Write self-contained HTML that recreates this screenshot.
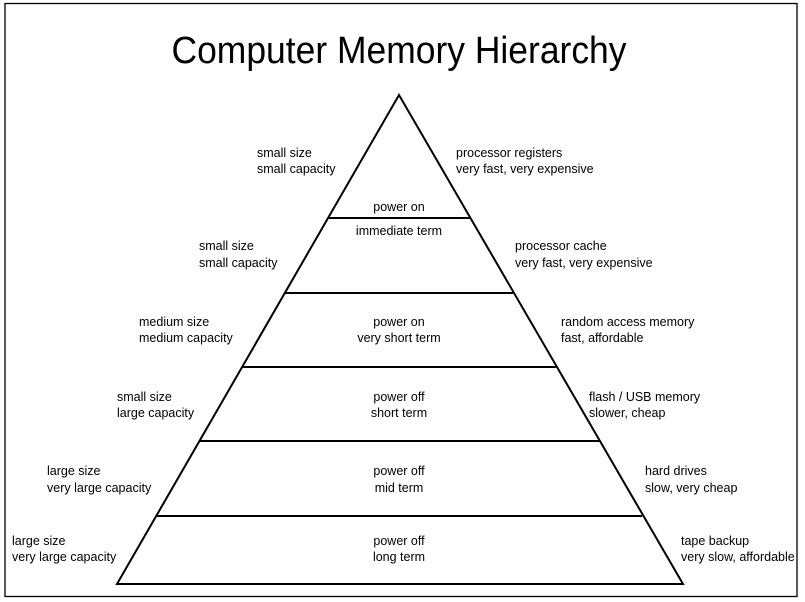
<!DOCTYPE html>
<html><head><meta charset="utf-8"><style>
html,body{margin:0;padding:0;background:#fff;}
svg{display:block;}
text{font-family:"Liberation Sans",sans-serif;fill:#000;}
.s{font-size:12.5px;}
</style></head><body>
<svg width="805" height="602" viewBox="0 0 805 602" xmlns="http://www.w3.org/2000/svg">
<rect x="5" y="3.5" width="792" height="593" fill="none" stroke="#000" stroke-width="1.3"/>
<text x="399" y="63" font-size="38" text-anchor="middle" textLength="455" lengthAdjust="spacingAndGlyphs">Computer Memory Hierarchy</text>
<polygon points="399,95 683,584 117,584" fill="none" stroke="#000" stroke-width="2"/>
<g stroke="#000" stroke-width="2">
<line x1="328" y1="218" x2="470" y2="218"/>
<line x1="285" y1="293" x2="513" y2="293"/>
<line x1="242" y1="367" x2="556" y2="367"/>
<line x1="199" y1="441" x2="599" y2="441"/>
<line x1="156" y1="516" x2="642" y2="516"/>
</g>
<g class="s" dominant-baseline="central">
<text x="257" y="153">small size</text><text x="257" y="169">small capacity</text>
<text x="456" y="153">processor registers</text><text x="456" y="169">very fast, very expensive</text>
<text x="399" y="207" text-anchor="middle">power on</text>
<text x="399" y="231" text-anchor="middle">immediate term</text>

<text x="199" y="246">small size</text><text x="199" y="263">small capacity</text>
<text x="515" y="246">processor cache</text><text x="515" y="263">very fast, very expensive</text>

<text x="139" y="322">medium size</text><text x="139" y="338">medium capacity</text>
<text x="399" y="322" text-anchor="middle">power on</text><text x="399" y="338" text-anchor="middle">very short term</text>
<text x="561" y="322">random access memory</text><text x="561" y="338">fast, affordable</text>

<text x="117" y="397">small size</text><text x="117" y="413">large capacity</text>
<text x="399" y="397" text-anchor="middle">power off</text><text x="399" y="413" text-anchor="middle">short term</text>
<text x="589" y="397">flash / USB memory</text><text x="589" y="413">slower, cheap</text>

<text x="47" y="471">large size</text><text x="47" y="488">very large capacity</text>
<text x="399" y="471" text-anchor="middle">power off</text><text x="399" y="488" text-anchor="middle">mid term</text>
<text x="645" y="471">hard drives</text><text x="645" y="488">slow, very cheap</text>

<text x="12" y="541">large size</text><text x="12" y="557">very large capacity</text>
<text x="399" y="541" text-anchor="middle">power off</text><text x="399" y="557" text-anchor="middle">long term</text>
<text x="681" y="541">tape backup</text><text x="681" y="557">very slow, affordable</text>
</g>
</svg>
</body></html>
